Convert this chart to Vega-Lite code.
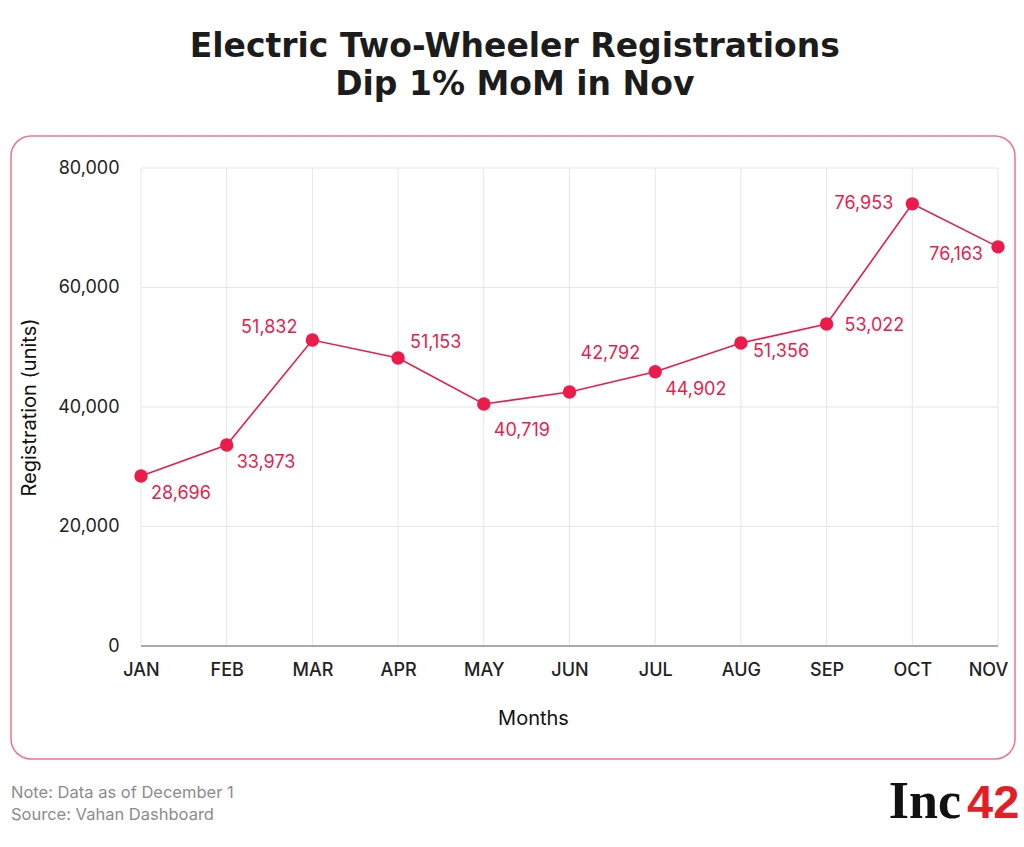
{
  "$schema": "https://vega.github.io/schema/vega-lite/v6.json",
  "background": "white",
  "padding": {"left": 10, "right": 10, "top": 31, "bottom": 0},
  "title": {
    "text": ["Electric Two-Wheeler Registrations", "Dip 1% MoM in Nov"],
    "font": "DejaVu Sans",
    "fontSize": 33,
    "fontWeight": "bold",
    "lineHeight": 38,
    "color": "#1c1c1c",
    "anchor": "middle",
    "offset": 33
  },
  "spacing": 12,
  "datasets": {
    "regs": [
      {"month": "JAN", "value": 28450, "label": 28696},
      {"month": "FEB", "value": 33640, "label": 33973},
      {"month": "MAR", "value": 51210, "label": 51832},
      {"month": "APR", "value": 48200, "label": 51153},
      {"month": "MAY", "value": 40500, "label": 40719},
      {"month": "JUN", "value": 42500, "label": 42792},
      {"month": "JUL", "value": 45900, "label": 44902},
      {"month": "AUG", "value": 50700, "label": 51356},
      {"month": "SEP", "value": 53900, "label": 53022},
      {"month": "OCT", "value": 74000, "label": 76953},
      {"month": "NOV", "value": 66800, "label": 76163}
    ],
    "grid": [{"v": 20000}, {"v": 40000}, {"v": 60000}, {"v": 80000}],
    "notes": [
      {"line": "Note: Data as of December 1"},
      {"line": "Source: Vahan Dashboard"}
    ],
    "logo": [{"part": "Inc"}, {"part": "42"}]
  },
  "vconcat": [
    {
      "width": 1004,
      "height": 623,
      "view": {"stroke": "#EF7390", "strokeWidth": 1.5, "cornerRadius": 20, "fill": "white"},
      "data": {"name": "regs"},
      "encoding": {
        "x": {
          "field": "month",
          "type": "ordinal",
          "sort": null,
          "title": "Months",
          "scale": {"type": "point", "range": [130, 987], "padding": 0},
          "axis": {"labelOffset": {"expr": "datum.value == 'NOV' ? -10 : 0"}}
        },
        "y": {
          "field": "value",
          "type": "quantitative",
          "title": "Registration (units)",
          "scale": {"domain": [0, 80000], "range": [510, 32]},
          "axis": {"values": [0, 20000, 40000, 60000, 80000], "format": ",.0f"}
        }
      },
      "layer": [
        {
          "mark": {"type": "rule", "color": "#e6e6e6", "strokeWidth": 1},
          "encoding": {
            "y": {"datum": 0},
            "y2": {"datum": 80000}
          }
        },
        {
          "data": {"name": "grid"},
          "mark": {"type": "rule", "color": "#e6e6e6", "strokeWidth": 1},
          "encoding": {
            "x": {"datum": "JAN"},
            "x2": {"datum": "NOV"},
            "y": {
              "field": "v",
              "type": "quantitative",
              "title": "Registration (units)",
              "scale": {"domain": [0, 80000], "range": [510, 32]},
              "axis": {"values": [0, 20000, 40000, 60000, 80000], "format": ",.0f"}
            }
          }
        },
        {
          "mark": {"type": "rule", "color": "#a9a9a9", "strokeWidth": 1.2},
          "encoding": {
            "x": {"datum": "JAN"},
            "x2": {"datum": "NOV"},
            "y": {"datum": 0}
          }
        },
        {
          "mark": {"type": "line", "color": "#EB1C4B", "strokeWidth": 1.6}
        },
        {
          "mark": {"type": "circle", "color": "#EB1C4B", "size": 180, "opacity": 1}
        },
        {
          "transform": [{"filter": {"field": "month", "oneOf": ["JAN", "FEB", "JUL"]}}],
          "mark": {"type": "text", "align": "left", "baseline": "middle", "dx": 10, "dy": 18, "font": "Inter", "fontSize": 18, "color": "#EB1C4B"},
          "encoding": {"text": {"field": "label", "type": "quantitative", "format": ","}}
        },
        {
          "transform": [{"filter": {"field": "month", "equal": "MAY"}}],
          "mark": {"type": "text", "align": "left", "baseline": "middle", "dx": 10, "dy": 27, "font": "Inter", "fontSize": 18, "color": "#EB1C4B"},
          "encoding": {"text": {"field": "label", "type": "quantitative", "format": ","}}
        },
        {
          "transform": [{"filter": {"field": "month", "equal": "APR"}}],
          "mark": {"type": "text", "align": "left", "baseline": "middle", "dx": 12, "dy": -15, "font": "Inter", "fontSize": 18, "color": "#EB1C4B"},
          "encoding": {"text": {"field": "label", "type": "quantitative", "format": ","}}
        },
        {
          "transform": [{"filter": {"field": "month", "equal": "JUN"}}],
          "mark": {"type": "text", "align": "left", "baseline": "middle", "dx": 11, "dy": -38, "font": "Inter", "fontSize": 18, "color": "#EB1C4B"},
          "encoding": {"text": {"field": "label", "type": "quantitative", "format": ","}}
        },
        {
          "transform": [{"filter": {"field": "month", "equal": "AUG"}}],
          "mark": {"type": "text", "align": "left", "baseline": "middle", "dx": 12, "dy": 9, "font": "Inter", "fontSize": 18, "color": "#EB1C4B"},
          "encoding": {"text": {"field": "label", "type": "quantitative", "format": ","}}
        },
        {
          "transform": [{"filter": {"field": "month", "equal": "SEP"}}],
          "mark": {"type": "text", "align": "left", "baseline": "middle", "dx": 18, "dy": 2, "font": "Inter", "fontSize": 18, "color": "#EB1C4B"},
          "encoding": {"text": {"field": "label", "type": "quantitative", "format": ","}}
        },
        {
          "transform": [{"filter": {"field": "month", "equal": "MAR"}}],
          "mark": {"type": "text", "align": "right", "baseline": "middle", "dx": -15, "dy": -12, "font": "Inter", "fontSize": 18, "color": "#EB1C4B"},
          "encoding": {"text": {"field": "label", "type": "quantitative", "format": ","}}
        },
        {
          "transform": [{"filter": {"field": "month", "equal": "OCT"}}],
          "mark": {"type": "text", "align": "right", "baseline": "middle", "dx": -19, "dy": 0, "font": "Inter", "fontSize": 18, "color": "#EB1C4B"},
          "encoding": {"text": {"field": "label", "type": "quantitative", "format": ","}}
        },
        {
          "transform": [{"filter": {"field": "month", "equal": "NOV"}}],
          "mark": {"type": "text", "align": "right", "baseline": "middle", "dx": -15, "dy": 8, "font": "Inter", "fontSize": 18, "color": "#EB1C4B"},
          "encoding": {"text": {"field": "label", "type": "quantitative", "format": ","}}
        }
      ]
    },
    {
      "width": 1004,
      "height": 60,
      "layer": [
        {
          "data": {"name": "notes"},
          "mark": {"type": "text", "align": "left", "baseline": "middle", "font": "Inter", "fontSize": 16.5, "color": "#8c8c8c"},
          "encoding": {
            "x": {"value": 0},
            "y": {"field": "line", "type": "nominal", "sort": null, "axis": null, "scale": {"type": "point", "range": [21, 43], "padding": 0}},
            "text": {"field": "line"}
          }
        },
        {
          "data": {"name": "logo"},
          "transform": [{"filter": {"field": "part", "equal": "Inc"}}],
          "mark": {"type": "text", "align": "right", "baseline": "alphabetic", "font": "Liberation Serif", "fontWeight": "bold", "fontSize": 52, "color": "#111111"},
          "encoding": {
            "x": {"value": 950},
            "y": {"value": 46},
            "text": {"field": "part"}
          }
        },
        {
          "data": {"name": "logo"},
          "transform": [{"filter": {"field": "part", "equal": "42"}}],
          "mark": {"type": "text", "align": "left", "baseline": "alphabetic", "font": "Liberation Sans", "fontWeight": "bold", "fontSize": 47, "color": "#E41E26"},
          "encoding": {
            "x": {"value": 956},
            "y": {"value": 46},
            "text": {"field": "part"}
          }
        }
      ]
    }
  ],
  "config": {
    "view": {"stroke": null},
    "axisX": {
      "offset": -113,
      "domain": false,
      "ticks": false,
      "tickSize": 0,
      "grid": false,
      "labelAngle": 0,
      "labelFont": "Inter",
      "labelFontSize": 18,
      "labelFontWeight": 500,
      "labelColor": "#222222",
      "labelPadding": 15,
      "titleFont": "Inter",
      "titleFontSize": 20,
      "titleFontWeight": "normal",
      "titleColor": "#111111",
      "titleX": 522,
      "titleY": 62,
      "titleBaseline": "top"
    },
    "axisY": {
      "offset": -130,
      "domain": false,
      "ticks": false,
      "tickSize": 0,
      "grid": false,
      "labelFont": "Inter",
      "labelFontSize": 18,
      "labelColor": "#222222",
      "labelPadding": 22,
      "titleFont": "Inter",
      "titleFontSize": 20,
      "titleFontWeight": "normal",
      "titleColor": "#111111",
      "titlePadding": 18
    }
  }
}
